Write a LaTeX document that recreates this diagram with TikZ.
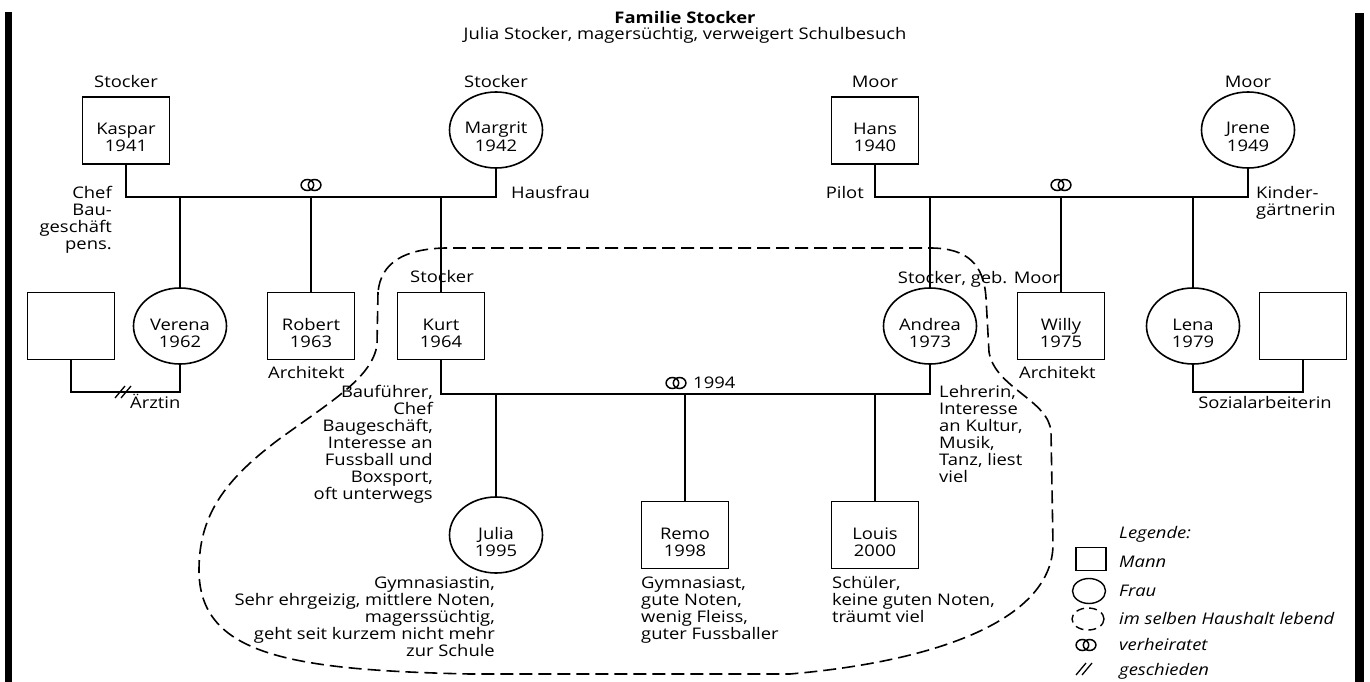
\documentclass[tikz,border=0pt]{standalone}
\usepackage{fontspec}
\setmainfont{Open Sans}
\usetikzlibrary{shapes.geometric}
\newcommand{\nmyr}[4]{%
  \node[txt,anchor=base] at (#1,#2+4) {#3};
  \node[txt,anchor=base] at (#1,#2+21) {#4};}
\newcommand{\fr}{\rule{0pt}{13pt}}
\tikzset{
  man/.style={draw, line width=1.6pt, minimum width=87pt, minimum height=67pt, inner sep=0pt},
  woman/.style={draw, ellipse, line width=1.6pt, minimum width=93pt, minimum height=76pt, inner sep=0pt},
  txt/.style={font=\fontsize{16}{17}\selectfont, inner sep=0pt, xscale=1.15},
  rel/.style={line width=1.6pt},
  house/.style={line width=1.6pt, dash pattern=on 13pt off 6pt},
  rings/.pic={\draw[line width=1.5pt] (-3.6,0) ellipse [x radius=6.3, y radius=5.5] (3.6,0) ellipse [x radius=6.3, y radius=5.5];},
  divorce/.pic={\draw[line width=1.3pt] (-9,6) -- (1,-6) (-3,6) -- (7,-6);}
}
\begin{document}
\begin{tikzpicture}[x=1pt,y=-1pt]
\useasboundingbox (0,0) rectangle (1370,682);
\fill[white] (0,0) rectangle (1370,682);
% side bars
\fill[black] (5,12) rectangle (12,682);
\fill[black] (1355,13) rectangle (1364,682);
% title
\node[txt,font=\fontsize{16}{17}\selectfont\bfseries,anchor=base] (title) at (685,24) {Familie Stocker};
\node[txt,anchor=base] (subtitle) at (685,40) {Julia Stocker, magersüchtig, verweigert Schulbesuch};

% household outline
\draw[house] (378,292) -- (377,345)
  .. controls (372,378) and (330,402) .. (278,440)
  .. controls (225,480) and (199,515) .. (199,570)
  .. controls (199,655) and (290,670) .. (470,674)
  -- (790,674)
  .. controls (950,660) and (1052,615) .. (1053,545)
  -- (1051,432)
  .. controls (1049,400) and (995,388) .. (989,352)
  -- (986,298)
  .. controls (984,265) and (968,248) .. (930,248)
  -- (445,248)
  .. controls (405,249) and (381,262) .. (378,292) -- cycle;

% persons row 1
\node[man] (kaspar) at (126,130.5) {};
\node[woman] (margrit) at (496,130) {};
\node[man] (hans) at (875,130.5) {};
\node[woman] (jrene) at (1248,130) {};
% row 2
\node[man] (ex1) at (71,326) {};
\node[woman] (verena) at (180,326) {};
\node[man] (robert) at (311,326) {};
\node[man] (kurt) at (441,326) {};
\node[woman] (andrea) at (930,326) {};
\node[man] (willy) at (1061,326) {};
\node[woman] (lena) at (1193,326) {};
\node[man] (ex2) at (1303,326) {};
% row 3
\node[woman] (julia) at (496,535) {};
\node[man] (remo) at (685,535) {};
\node[man] (louis) at (875,535) {};

\nmyr{126}{130.5}{Kaspar}{1941}
\nmyr{496}{130}{Margrit}{1942}
\nmyr{875}{130.5}{Hans}{1940}
\nmyr{1248}{130}{Jrene}{1949}
\nmyr{180}{326}{Verena}{1962}
\nmyr{311}{326}{Robert}{1963}
\nmyr{441}{326}{Kurt}{1964}
\nmyr{930}{326}{Andrea}{1973}
\nmyr{1061}{326}{Willy}{1975}
\nmyr{1193}{326}{Lena}{1979}
\nmyr{496}{535}{Julia}{1995}
\nmyr{685}{535}{Remo}{1998}
\nmyr{875}{535}{Louis}{2000}

% junction points
\coordinate (m1) at (311,197);
\coordinate (m2) at (1061,197);
\coordinate (m3) at (685,394);
\coordinate (d1) at (125,392);
\coordinate (p2) at (1248,392);

% connectors
\draw[rel] (kaspar.south) |- (m1) -| (margrit.south);
\draw[rel] (hans.south) |- (m2) -| (jrene.south);
\draw[rel] (verena.north) -- (verena.north |- m1);
\draw[rel] (robert.north) -- (robert.north |- m1);
\draw[rel] (kurt.north) -- (kurt.north |- m1);
\draw[rel] (andrea.north) -- (andrea.north |- m2);
\draw[rel] (willy.north) -- (willy.north |- m2);
\draw[rel] (lena.north) -- (lena.north |- m2);
\draw[rel] (kurt.south) |- (m3) -| (andrea.south);
\draw[rel] (julia.north) -- (julia.north |- m3);
\draw[rel] (remo.north) -- (remo.north |- m3);
\draw[rel] (louis.north) -- (louis.north |- m3);
\draw[rel] (ex1.south) |- (d1) -| (verena.south);
\draw[rel] (lena.south) |- (p2) -| (ex2.south);

% symbols
\pic at (311,185) {rings};
\pic at (1061,185) {rings};
\pic at (676,383) {rings};
\pic at (124,392) {divorce};

% labels
\node[txt,anchor=base] at (126,88) {Stocker};
\node[txt,anchor=base] at (496,88) {Stocker};
\node[txt,anchor=base] at (875,88) {Moor};
\node[txt,anchor=base] at (1248,88) {Moor};
\node[txt,anchor=north east,align=right] at (112,185) {\fr Chef\\Bau-\\geschäft\\pens.};
\node[txt,anchor=base west] at (511,198) {Hausfrau};
\node[txt,anchor=base east] at (864,198) {Pilot};
\node[txt,anchor=north west,align=left] at (1256,185) {\fr Kinder-\\gärtnerin};
\node[txt,anchor=base] at (442,282) {Stocker};
\node[txt,anchor=base] at (979,283) {Stocker, geb. Moor};
\node[txt,anchor=base west] at (268,378) {Architekt};
\node[txt,anchor=base west] at (130,408) {Ärztin};
\node[txt,anchor=base west] at (1019,378) {Architekt};
\node[txt,anchor=base] at (1265,408) {Sozialarbeiterin};
\node[txt,anchor=base west] at (693,388) {1994};
\node[txt,anchor=north east,align=right] at (433,384) {\fr Bauführer,\\Chef\\Baugeschäft,\\Interesse an\\Fussball und\\Boxsport,\\oft unterwegs};
\node[txt,anchor=north west,align=left] at (939,384) {\fr Lehrerin,\\Interesse\\an Kultur,\\Musik,\\Tanz, liest\\viel};
\node[txt,anchor=north east,align=right] at (495,575) {\fr Gymnasiastin,\\Sehr ehrgeizig, mittlere Noten,\\magerssüchtig,\\geht seit kurzem nicht mehr\\zur Schule};
\node[txt,anchor=north west,align=left] at (641,575) {\fr Gymnasiast,\\gute Noten,\\wenig Fleiss,\\guter Fussballer};
\node[txt,anchor=north west,align=left] at (832,575) {\fr Schüler,\\keine guten Noten,\\träumt viel};

% legend
\node[txt,font=\fontsize{16}{17}\selectfont\itshape,anchor=base west] at (1119,538) {Legende:};
\node[draw,line width=1.4pt,minimum width=30pt,minimum height=23pt,inner sep=0pt] (lman) at (1091,559) {};
\node[txt,font=\fontsize{16}{17}\selectfont\itshape,anchor=base west] at (1119,567) {Mann};
\node[draw,ellipse,line width=1.4pt,minimum width=33pt,minimum height=25pt,inner sep=0pt] (lfrau) at (1089,591) {};
\node[txt,font=\fontsize{16}{17}\selectfont\itshape,anchor=base west] at (1119,596) {Frau};
\draw[line width=1.4pt,dash pattern=on 8pt off 5pt] (1088,619) ellipse [x radius=16, y radius=11];
\node[txt,font=\fontsize{16}{17}\selectfont\itshape,anchor=base west] at (1119,624) {im selben Haushalt lebend};
\pic at (1086,645) {rings};
\node[txt,font=\fontsize{16}{17}\selectfont\itshape,anchor=base west] at (1119,650) {verheiratet};
\pic at (1085,669) {divorce};
\node[txt,font=\fontsize{16}{17}\selectfont\itshape,anchor=base west] at (1119,675) {geschieden};
\end{tikzpicture}
\end{document}
